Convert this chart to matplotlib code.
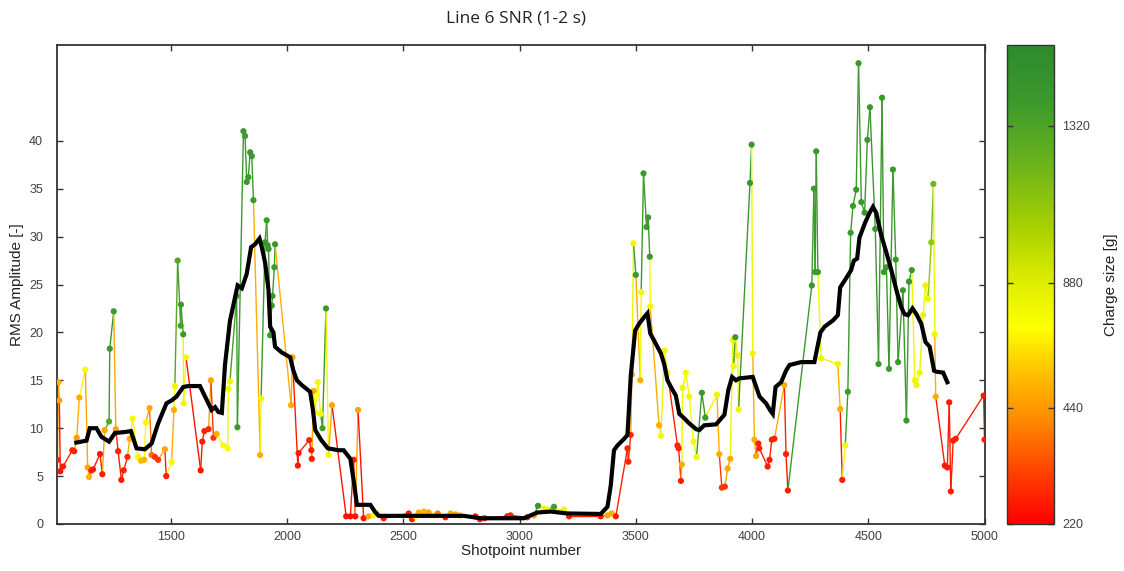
import numpy as np
import matplotlib
matplotlib.use("Agg")
import matplotlib.pyplot as plt
from matplotlib.collections import LineCollection
from matplotlib.colors import LinearSegmentedColormap, Normalize
import matplotlib.cm as cm

plt.rcParams['font.family'] = ['Liberation Sans', 'DejaVu Sans']

# ---------------- data ----------------
shot_x = [1012, 1016, 1020, 1024, 1036, 1076, 1084, 1095, 1106, 1132, 1142, 1148, 1158, 1165, 1195,
          1205, 1215, 1234, 1237, 1254, 1263, 1273, 1287, 1297, 1313, 1323, 1335, 1359, 1371, 1385,
          1392, 1408, 1417, 1431, 1445, 1474, 1480, 1503, 1513, 1517, 1529, 1542, 1543, 1553, 1555,
          1565, 1628, 1635, 1644, 1662, 1672, 1683, 1697, 1726, 1744, 1747, 1754, 1783, 1786, 1812,
          1819, 1826, 1833, 1841, 1848, 1855, 1884, 1888, 1905, 1912, 1916, 1920, 1927, 1934, 1937,
          1945, 1948, 2017, 2023, 2046, 2049, 2095, 2104, 2106, 2114, 2121, 2132, 2144, 2152, 2167,
          2178, 2193, 2254, 2272, 2286, 2293, 2305, 2329, 2351, 2372, 2387, 2415,
          2523, 2537, 2552, 2566, 2588, 2609, 2631, 2648, 2681, 2703, 2724, 2743, 2810, 2829, 2849,
          2947, 2961, 3033, 3062, 3079, 3105, 3119, 3148, 3170, 3191, 3213, 3349, 3378, 3396, 3414,
          3464, 3468, 3478, 3483, 3490, 3500, 3519, 3523, 3533, 3546, 3553, 3560, 3562, 3600, 3608,
          3623, 3636, 3679, 3684, 3694, 3698, 3701, 3715, 3730, 3748, 3761, 3784, 3799, 3849, 3859,
          3870, 3883, 3895, 3906, 3917, 3921, 3928, 3938, 3942, 3991, 3998, 4003, 4010, 4017, 4027,
          4031, 4067, 4075, 4085, 4096, 4139, 4146, 4154, 4257, 4266, 4271, 4276, 4283, 4297, 4369,
          4379, 4388, 4401, 4412, 4424, 4434, 4448, 4458, 4470, 4484, 4496, 4507, 4530, 4544, 4559,
          4567, 4578, 4589, 4606, 4618, 4628, 4649, 4664, 4675, 4687, 4700, 4707, 4721, 4736, 4746,
          4757, 4771, 4780, 4786, 4790, 4829, 4840, 4848, 4855, 4865, 4876, 4996, 5000]

rms_amp = [6.7, 14.8, 12.9, 5.5, 6.0, 7.7, 7.6, 9.0, 13.2, 16.1, 5.9, 4.9, 5.6, 5.7, 7.3,
           5.2, 9.8, 10.7, 18.3, 22.2, 9.9, 7.6, 4.6, 5.6, 7.0, 8.9, 11.0, 7.0, 6.6, 6.7,
           10.6, 12.1, 7.2, 7.0, 6.7, 7.8, 5.0, 6.5, 11.9, 14.4, 27.5, 20.7, 22.9, 19.8, 12.6,
           17.4, 5.6, 8.6, 9.7, 9.9, 15.0, 9.0, 9.4, 8.2, 7.9, 14.1, 14.9, 23.8, 10.1, 41.0,
           40.5, 35.7, 36.2, 38.8, 38.4, 33.8, 7.2, 13.1, 29.4, 31.7, 29.1, 28.7, 19.7, 22.8, 23.8,
           26.8, 29.2, 12.4, 17.4, 6.1, 7.4, 8.75, 7.7, 6.8, 13.9, 11.7, 14.8, 11.5, 10.0, 22.5,
           7.2, 12.4, 0.8, 0.8, 6.7, 0.8, 11.9, 0.6, 0.8, 0.9, 1.1, 0.6,
           1.1, 0.5, 0.8, 1.2, 1.3, 1.2, 0.9, 1.1, 0.7, 1.1, 1.0, 0.9, 0.8, 0.5, 0.6,
           0.8, 0.9, 0.7, 0.9, 1.9, 1.6, 1.5, 1.8, 1.3, 1.5, 0.8, 0.8, 0.9, 1.1, 0.8,
           7.9, 6.5, 9.3, 15.6, 29.3, 26.0, 15.0, 24.2, 36.6, 31.0, 32.0, 27.9, 22.7, 10.3, 9.2,
           18.1, 15.8, 8.2, 7.9, 4.5, 6.2, 14.2, 15.8, 13.3, 8.6, 7.0, 13.7, 11.1, 13.5, 7.3,
           3.8, 3.9, 5.8, 6.8, 19.2, 16.5, 19.5, 17.6, 11.95, 35.6, 39.6, 17.8, 8.8, 7.1, 8.4,
           7.9, 6.0, 6.7, 8.8, 8.9, 14.5, 7.3, 3.5, 24.9, 35.0, 26.3, 38.9, 26.3, 17.3, 16.7,
           12.0, 4.6, 8.2, 13.8, 30.4, 33.2, 34.9, 48.1, 33.6, 32.5, 40.1, 43.5, 30.8, 16.7, 44.5,
           26.3, 26.8, 16.2, 37.0, 27.6, 16.9, 24.4, 10.8, 25.3, 26.5, 15.0, 14.5, 15.8, 21.8, 24.9,
           23.5, 29.4, 35.5, 19.8, 13.3, 6.1, 5.9, 12.7, 3.4, 8.7, 8.9, 13.4, 8.8]

charge_g = [260, 500, 480, 250, 260, 270, 270, 450, 500, 760, 480, 520, 260, 260, 260,
            260, 480, 1300, 1400, 1400, 480, 270, 260, 270, 280, 500, 780, 760, 540, 520,
            760, 480, 380, 300, 300, 480, 260, 760, 500, 800, 1300, 1350, 1400, 1400, 800,
            780, 250, 260, 270, 280, 480, 300, 500, 760, 760, 780, 800, 1350, 1400, 1400,
            1400, 1400, 1400, 1400, 1400, 1400, 500, 780, 1400, 1400, 1400, 1400, 1400, 1400, 1400,
            1400, 1400, 500, 480, 260, 260, 270, 260, 260, 500, 760, 780, 800, 1350, 1400,
            780, 480, 250, 250, 260, 250, 480, 250, 480, 760, 780, 260,
            260, 260, 760, 500, 520, 480, 760, 400, 260, 500, 480, 520, 260, 260, 270,
            260, 270, 260, 480, 1400, 800, 760, 1350, 780, 800, 260, 260, 480, 500, 260,
            270, 270, 280, 480, 800, 1400, 500, 780, 1400, 1400, 1400, 1400, 780, 500, 780,
            800, 780, 270, 270, 260, 500, 800, 780, 800, 760, 780, 1400, 1400, 800, 500,
            300, 300, 480, 480, 800, 780, 1400, 800, 800, 1400, 1400, 800, 500, 480, 270,
            270, 260, 260, 270, 270, 500, 270, 260, 1400, 1400, 1400, 1400, 1400, 800, 800,
            500, 260, 780, 1400, 1400, 1400, 1400, 1400, 1400, 1400, 1400, 1400, 1400, 1400, 1400,
            1400, 1400, 1400, 1400, 1400, 1400, 1400, 1400, 1400, 1400, 800, 800, 800, 820, 800,
            800, 1100, 1200, 800, 500, 260, 260, 260, 260, 260, 270, 260, 260]

avg_x = [1093, 1115, 1137, 1151, 1180, 1201, 1234, 1259, 1302, 1328, 1352, 1388, 1417, 1445, 1481,
         1503, 1524, 1553, 1575, 1625, 1675, 1690, 1704, 1719, 1733, 1754, 1776, 1787, 1805, 1826,
         1845, 1862, 1881, 1891, 1905, 1920, 1927, 1941, 1948, 1977, 2013, 2027, 2042, 2063, 2099,
         2111, 2121, 2147, 2175, 2221, 2243, 2272, 2290, 2300, 2358, 2377, 2394, 2466, 2760, 2832,
         3019, 3076, 3134, 3205, 3349, 3378, 3392, 3406, 3421, 3450, 3464, 3478, 3497, 3514, 3536,
         3550, 3562, 3586, 3608, 3622, 3636, 3651, 3672, 3687, 3701, 3730, 3759, 3773, 3794, 3845,
         3881, 3898, 3914, 3931, 3945, 4003, 4032, 4060, 4077, 4089, 4101, 4125, 4146, 4161, 4211,
         4268, 4294, 4312, 4348, 4369, 4379, 4398, 4426, 4438, 4452, 4462, 4487, 4506, 4520, 4534,
         4556, 4577, 4599, 4621, 4642, 4656, 4671, 4690, 4707, 4728, 4746, 4764, 4783, 4793, 4822,
         4840]
avg_y = [8.5, 8.6, 8.7, 10.0, 10.0, 9.1, 8.6, 9.5, 9.6, 9.7, 7.9, 7.8, 8.4, 10.5, 12.6,
         12.9, 13.3, 14.3, 14.4, 14.4, 11.9, 12.2, 11.7, 11.6, 16.7, 21.2, 23.7, 24.9, 24.6, 26.1,
         28.9, 29.2, 29.8, 28.9, 27.3, 24.4, 20.6, 20.0, 18.5, 17.9, 17.4, 16.0, 15.0, 14.5, 13.8,
         11.9, 9.8, 8.75, 7.9, 7.7, 7.7, 6.8, 3.9, 2.0, 2.0, 1.3, 0.85, 0.85, 0.85, 0.6,
         0.6, 1.2, 1.3, 1.1, 1.05, 1.8, 4.0, 7.7, 8.2, 8.9, 9.3, 15.4, 20.2, 20.9, 21.6,
         22.0, 19.9, 18.8, 17.8, 16.7, 15.0, 14.3, 13.4, 11.5, 11.2, 10.5, 9.9, 9.8, 10.3, 10.4,
         11.4, 14.0, 15.35, 15.0, 15.2, 15.35, 13.3, 12.6, 11.9, 11.5, 14.3, 14.8, 16.0, 16.6, 16.9,
         16.9, 20.0, 20.6, 21.25, 21.8, 24.7, 25.4, 26.5, 27.5, 27.7, 29.9, 31.5, 32.5, 33.1, 32.5,
         30.1, 28.4, 26.5, 24.4, 22.6, 21.9, 21.8, 22.5, 21.9, 20.9, 19.0, 18.5, 16.0, 15.9, 15.8,
         14.8]

x_ticks = [1500, 2000, 2500, 3000, 3500, 4000, 4500, 5000]
y_ticks = [0, 5, 10, 15, 20, 25, 30, 35, 40]
cbar_ticks = [220, 440, 880, 1320]

# colorbar position mapping (charge -> fraction of bar height), as drawn in the reference
cbar_pos_charge = [220, 440, 880, 1320, 1547]
cbar_pos_frac = [0.0, 0.243, 0.504, 0.831, 1.0]

cmap = LinearSegmentedColormap.from_list(
    "charge",
    [(0.0, "#ff0000"), (0.12, "#ff4a00"), (0.22, "#ff8c00"), (0.32, "#ffc400"),
     (0.41, "#ffff00"), (0.52, "#d8ea00"), (0.62, "#a8d000"), (0.75, "#6cb41c"),
     (0.88, "#3c9a2c"), (1.0, "#2c8a2c")])

def frac(c):
    return np.interp(c, cbar_pos_charge, cbar_pos_frac)

x = np.array(shot_x, float)
y = np.array(rms_amp, float)
cols = cmap(frac(np.array(charge_g, float)))

fig = plt.figure(figsize=(11.24, 5.71), dpi=100)
ax = fig.add_axes([57/1124, 47/571, 928/1124, 479/571])

pts = np.column_stack([x, y])
segs = np.stack([pts[:-1], pts[1:]], axis=1)
lc = LineCollection(segs, colors=cols[1:], linewidths=1.0, zorder=2)
ax.add_collection(lc)
ax.scatter(x, y, s=20, c=cols, edgecolors='none', zorder=3)
ax.plot(avg_x, avg_y, color='black', lw=3.0, zorder=4, solid_joinstyle='miter')

ax.set_xlim(1010, 5002)
ax.set_ylim(0, 50)
ax.set_xticks(x_ticks)
ax.set_yticks(y_ticks)
ax.tick_params(direction='in', top=True, right=True, length=4, width=1,
               labelsize=9, labelcolor='#404040', color='#333333')
ax.tick_params(axis='y', pad=10)
ax.tick_params(axis='x', pad=5, labeltop=False)
for s in ax.spines.values():
    s.set_color('#333333')
    s.set_linewidth(1.3)

ax.set_xlabel("Shotpoint number", fontsize=11, labelpad=1, color='#222222')
ax.set_ylabel("RMS Amplitude [-]", fontsize=11, labelpad=4, color='#222222')
fig.text(0.459, 0.968, "Line 6 SNR (1-2 s)", ha='center', va='center', fontsize=12.5,
         color='#222222', family=['Open Sans', 'DejaVu Sans'])

cax = fig.add_axes([1007/1124, 47/571, 47/1124, 479/571])
sm = cm.ScalarMappable(norm=Normalize(0, 1), cmap=cmap)
cb = fig.colorbar(sm, cax=cax)
cb.set_ticks([float(frac(t)) for t in cbar_ticks])
cb.set_ticklabels([str(t) for t in cbar_ticks])
cax.tick_params(direction='in', left=True, right=True, length=4, width=1,
                labelsize=9, labelcolor='#404040', color='#333333', pad=6)
cb.outline.set_edgecolor('#333333')
cb.outline.set_linewidth(1.0)
cb.set_label("Charge size [g]", fontsize=11, color='#222222', labelpad=10)

fig.savefig("out.png", dpi=100)
